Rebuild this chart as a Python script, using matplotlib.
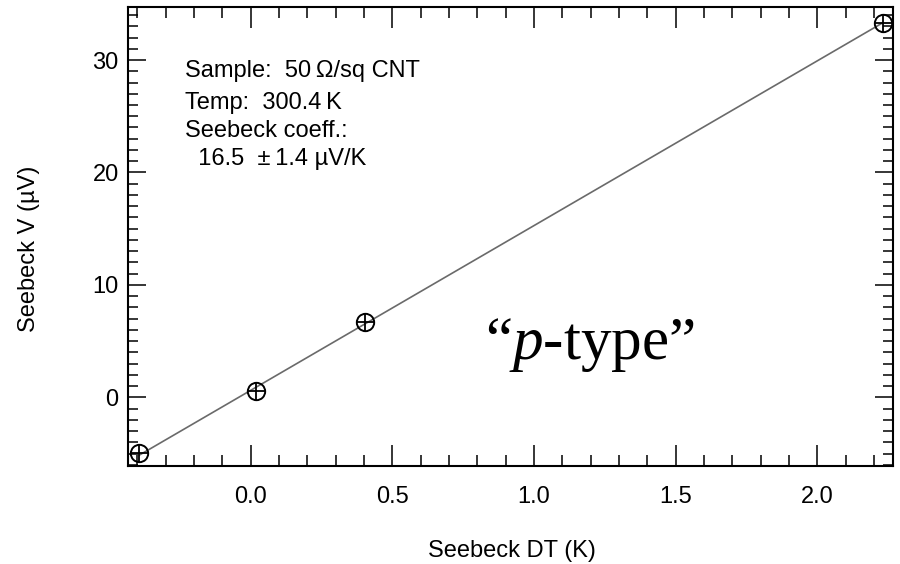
import numpy as np
import matplotlib
matplotlib.use("Agg")
import matplotlib.pyplot as plt
from matplotlib.ticker import MultipleLocator, FixedLocator

# ---- data ----
delta_t = [-0.393, 0.019, 0.403, 2.231]      # Seebeck DT (K)
seebeck_v = [-4.98, 0.59, 6.67, 33.32]       # Seebeck V (uV)
x_major = [0.0, 0.5, 1.0, 1.5, 2.0]
y_major = [0, 10, 20, 30]
x_limits = (-0.434, 2.266)
y_limits = (-6.08, 34.69)
info_lines = ["Sample:  50\u2009\u03a9/sq CNT", "Temp:  300.4\u2009K", "Seebeck coeff.:",
              "  16.5  \u00b1\u20091.4 \u00b5V/K"]
x_label = "Seebeck DT (K)"
y_label = "Seebeck V (\u00b5V)"

plt.rcParams['font.family'] = ['Liberation Sans', 'DejaVu Sans']
plt.rcParams['mathtext.fontset'] = 'custom'
plt.rcParams['mathtext.rm'] = 'Liberation Serif'
plt.rcParams['mathtext.it'] = 'Liberation Serif:italic'

fig = plt.figure(figsize=(9, 5.64), dpi=100)
W, H = 900, 564
x0, x1, yt, yb = 127.7, 892.7, 7.3, 465.7
ax = fig.add_axes([x0 / W, 1 - yb / H, (x1 - x0) / W, (yb - yt) / H])

# fit line
slope, icpt = np.polyfit(delta_t, seebeck_v, 1)
xl = np.array([min(delta_t), max(delta_t)])
ax.plot(xl, slope * xl + icpt, color='#6a6a6a', lw=1.2, zorder=2)

ax.plot(delta_t, seebeck_v, ls='none', marker='o', ms=12.5, mfc='none',
        mec='black', mew=1.4, zorder=3)
ax.plot(delta_t, seebeck_v, ls='none', marker='+', ms=12.5, mec='black',
        mew=1.3, zorder=3)

ax.set_xlim(*x_limits)
ax.set_ylim(*y_limits)
ax.xaxis.set_major_locator(FixedLocator(x_major))
ax.yaxis.set_major_locator(FixedLocator(y_major))
ax.xaxis.set_minor_locator(MultipleLocator(0.1))
ax.yaxis.set_minor_locator(MultipleLocator(1))
ax.set_xticklabels([f"{v:.1f}" for v in x_major])
ax.set_yticklabels([str(v) for v in y_major])

for sp in ax.spines.values():
    sp.set_linewidth(1.5)

ax.tick_params(axis='x', which='major', direction='in', top=True, bottom=True,
               length=15, width=1.1, labelsize=17, pad=14.5)
ax.tick_params(axis='x', which='minor', direction='in', top=True, bottom=True,
               length=8, width=1.1)
ax.tick_params(axis='y', which='major', direction='in', left=True, right=True,
               length=13, width=1.1, labelsize=17, pad=6.5)
ax.tick_params(axis='y', which='minor', direction='in', left=True, right=True,
               length=7, width=1.1)

# axis labels
fig.text(511.7 / W, 1 - 556.7 / H, x_label, ha='center', va='baseline', fontsize=17)
fig.text(28.5 / W, 1 - 248.8 / H, y_label, ha='center', va='center',
         rotation=90, fontsize=17)

# info text
baselines = [76.5, 109.3, 137.3, 165.0]
for line, yb_ in zip(info_lines, baselines):
    fig.text(185 / W, 1 - yb_ / H, line, ha='left', va='baseline', fontsize=17)

# p-type label
fig.text(485 / W, 1 - 359.3 / H, "\u201c$\\mathit{p}$-type\u201d", ha='left',
         va='baseline', fontsize=44, family='Liberation Serif')

fig.savefig("out.png", dpi=100)
